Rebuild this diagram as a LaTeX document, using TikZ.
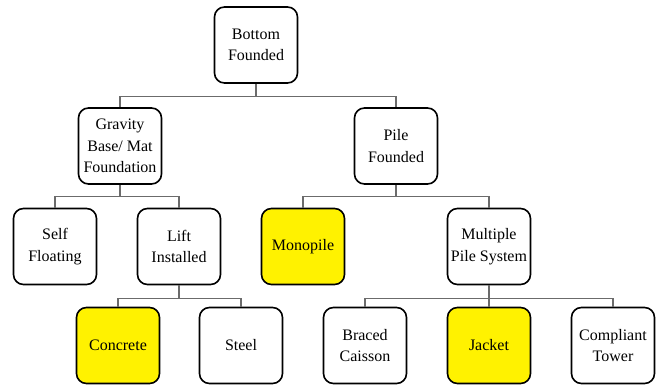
\documentclass[tikz,border=0pt]{standalone}
\usepackage{fontspec}
\setmainfont{Liberation Serif}
\usetikzlibrary{positioning}

\begin{document}
\begin{tikzpicture}[x=1pt, y=-1pt,
every node/.style={font=\fontsize{16}{21.5}\selectfont},
box/.style={draw, black, line width=1.6pt, rounded corners=10pt, fill=white,
  minimum width=83pt, minimum height=76pt, inner sep=0pt, align=center},
pick/.style={box, fill=yellow},
link/.style={draw=black!58, line width=1.1pt}]

\useasboundingbox (0,0) rectangle (657,385);

\node[box]  (bf)  at (256,45)    {Bottom\\Founded};
\node[box]  (gb)  at (120,146)   {Gravity\\Base/ Mat\\Foundation};
\node[box]  (pf)  at (396,146)   {Pile\\Founded};
\node[box]  (sf)  at (55,246.5)  {Self\\Floating};
\node[box]  (li)  at (179,246.5) {Lift\\Installed};
\node[pick] (mp)  at (303,246.5) {Monopile};
\node[box]  (mps) at (489,246.5) {Multiple\\Pile System};
\node[pick] (co)  at (118,345.5) {Concrete};
\node[box]  (st)  at (241,345.5) {Steel};
\node[box]  (bc)  at (365,345.5) {Braced\\Caisson};
\node[pick] (ja)  at (489,345.5) {Jacket};
\node[box]  (ct)  at (613,345.5) {Compliant\\Tower};

\draw[link] (bf.south) -- ++(0,13) -| (gb.north);
\draw[link] (bf.south) -- ++(0,13) -| (pf.north);
\draw[link] (gb.south) -- ++(0,12) -| (sf.north);
\draw[link] (gb.south) -- ++(0,12) -| (li.north);
\draw[link] (pf.south) -- ++(0,12) -| (mp.north);
\draw[link] (pf.south) -- ++(0,12) -| (mps.north);
\draw[link] (li.south) -- ++(0,13) -| (co.north);
\draw[link] (li.south) -- ++(0,13) -| (st.north);
\draw[link] (mps.south) -- ++(0,13) -| (bc.north);
\draw[link] (mps.south) -- (ja.north);
\draw[link] (mps.south) -- ++(0,13) -| (ct.north);

\end{tikzpicture}
\end{document}
